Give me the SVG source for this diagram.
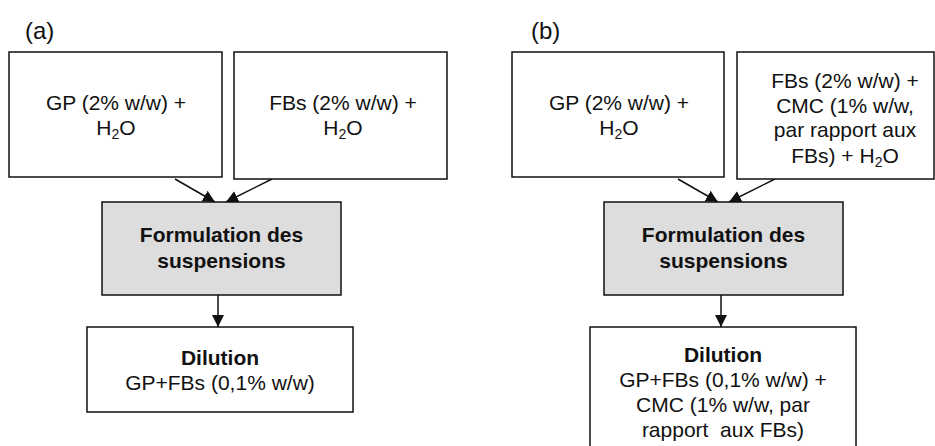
<svg xmlns="http://www.w3.org/2000/svg" width="935" height="446" viewBox="0 0 935 446">
<defs>
<style>
.box{fill:#ffffff;stroke:#111111;stroke-width:1.5}
.gray{fill:#dddddd;stroke:#111111;stroke-width:1.5}
text{font-family:"Liberation Sans",Arial,sans-serif;font-size:21px;fill:#111111;text-anchor:middle}
.b{font-weight:bold}
.lbl{font-size:24px;text-anchor:start}
.sub{font-size:14px}
.conn{stroke:#111111;stroke-width:1.5;fill:none;marker-end:url(#ah)}
</style>
<marker id="ah" markerUnits="userSpaceOnUse" markerWidth="14" markerHeight="14" viewBox="0 0 14 14" refX="12" refY="7" orient="auto">
<path d="M0,1 L12,7 L0,13 Z" fill="#111111"/>
</marker>
</defs>
<rect width="935" height="446" fill="#ffffff"/>
<text class="lbl" x="25" y="39">(a)</text>
<text class="lbl" x="531" y="39">(b)</text>
<g id="connectors">
<line class="conn" x1="175" y1="179" x2="215" y2="202"/>
<line class="conn" x1="272" y1="179" x2="226" y2="202"/>
<line class="conn" x1="218" y1="295" x2="218" y2="327"/>
<line class="conn" x1="678" y1="179" x2="718" y2="202"/>
<line class="conn" x1="775" y1="179" x2="729" y2="202"/>
<line class="conn" x1="721" y1="295" x2="721" y2="327"/>
</g>
<g id="a-gp">
<rect class="box" x="9" y="52" width="213" height="125"/>
<text x="116" y="110">GP (2% w/w) +</text>
<text x="116" y="135">H<tspan class="sub" dy="4">2</tspan><tspan dy="-4">O</tspan></text>
</g>
<g id="a-fbs">
<rect class="box" x="234" y="52" width="213" height="127"/>
<text x="343" y="110">FBs (2% w/w) +</text>
<text x="343" y="135">H<tspan class="sub" dy="4">2</tspan><tspan dy="-4">O</tspan></text>
</g>
<g id="a-form">
<rect class="gray" x="102" y="202" width="239" height="93"/>
<text class="b" x="221.5" y="242">Formulation des</text>
<text class="b" x="221.5" y="268">suspensions</text>
</g>
<g id="a-dil">
<rect class="box" x="87" y="327" width="266" height="85"/>
<text class="b" x="220" y="365">Dilution</text>
<text x="220" y="390">GP+FBs (0,1% w/w)</text>
</g>
<g id="b-gp">
<rect class="box" x="512" y="52" width="212" height="125"/>
<text x="619" y="110">GP (2% w/w) +</text>
<text x="619" y="135">H<tspan class="sub" dy="4">2</tspan><tspan dy="-4">O</tspan></text>
</g>
<g id="b-fbs">
<rect class="box" x="737" y="52" width="197" height="127"/>
<text x="845" y="88">FBs (2% w/w) +</text>
<text x="845" y="113">CMC (1% w/w,</text>
<text x="845" y="137">par rapport aux</text>
<text x="845" y="163">FBs) + H<tspan class="sub" dy="4">2</tspan><tspan dy="-4">O</tspan></text>
</g>
<g id="b-form">
<rect class="gray" x="604" y="202" width="239" height="93"/>
<text class="b" x="723.5" y="242">Formulation des</text>
<text class="b" x="723.5" y="268">suspensions</text>
</g>
<g id="b-dil">
<rect class="box" x="590" y="327" width="266" height="140"/>
<text class="b" x="723" y="362">Dilution</text>
<text x="723" y="387">GP+FBs (0,1% w/w) +</text>
<text x="723" y="412">CMC (1% w/w, par</text>
<text x="723" y="437" xml:space="preserve">rapport  aux FBs)</text>
</g>
</svg>
